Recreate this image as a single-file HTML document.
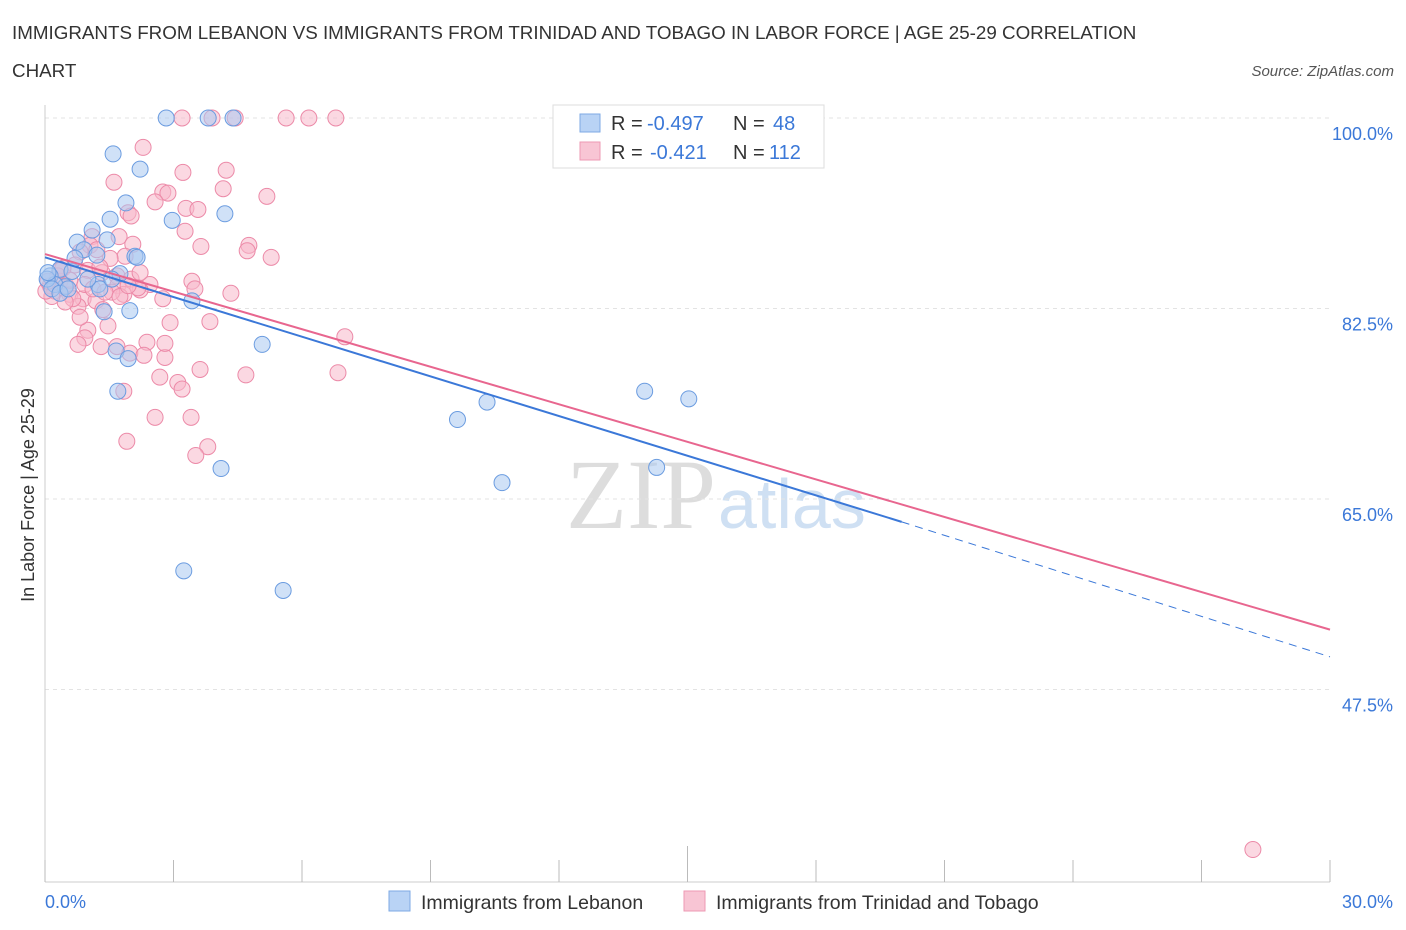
<!DOCTYPE html>
<html><head><meta charset="utf-8"><style>
body{margin:0;background:#fff;font-family:"Liberation Sans",sans-serif;}
svg{display:block}
</style></head><body>
<svg id="chart" width="1406" height="930">
<text x="12" y="39" font-size="18.8" fill="#333">IMMIGRANTS FROM LEBANON VS IMMIGRANTS FROM TRINIDAD AND TOBAGO IN LABOR FORCE | AGE 25-29 CORRELATION</text>
<text x="12" y="77" font-size="18.8" fill="#333">CHART</text>
<text x="1394" y="76" font-size="15" fill="#555" font-style="italic" text-anchor="end">Source: ZipAtlas.com</text>
<text x="716" y="528" font-size="100" fill="#ddd" text-anchor="end" font-family="Liberation Serif,serif">ZIP</text>
<text x="718" y="528" font-size="70" fill="#cfe0f3">atlas</text>
<text transform="translate(34,495) rotate(-90)" font-size="18" fill="#333" text-anchor="middle">In Labor Force | Age 25-29</text>
<g id="grid"></g><g id="lines"></g><g id="pts"></g>
<g>
<rect x="553" y="105" width="271" height="63" fill="#fff" stroke="#ddd"/>
<rect x="580" y="114" width="20" height="18" fill="#b9d3f5" stroke="#7ea9e4"/>
<text x="611" y="130" font-size="20" fill="#333">R =</text>
<text x="647" y="130" font-size="20" fill="#3b78d8">-0.497</text>
<text x="733" y="130" font-size="20" fill="#333">N =</text>
<text x="773" y="130" font-size="20" fill="#3b78d8">48</text>
<rect x="580" y="142" width="20" height="18" fill="#f8c5d4" stroke="#ee99b3"/>
<text x="611" y="159" font-size="20" fill="#333">R =</text>
<text x="650" y="159" font-size="20" fill="#3b78d8">-0.421</text>
<text x="733" y="159" font-size="20" fill="#333">N =</text>
<text x="769" y="159" font-size="20" fill="#3b78d8">112</text>
</g>
<g>
<rect x="389" y="891" width="21" height="20" fill="#b9d3f5" stroke="#7ea9e4"/>
<text x="421" y="909" font-size="19.5" fill="#333">Immigrants from Lebanon</text>
<rect x="684" y="891" width="21" height="20" fill="#f8c5d4" stroke="#ee99b3"/>
<text x="716" y="909" font-size="19.5" fill="#333">Immigrants from Trinidad and Tobago</text>
</g>
</svg>
<script>
const yTicks=[100,82.5,65,47.5];
const yTickLabels=["100.0%","82.5%","65.0%","47.5%"];
const xTickLabels=["0.0%","30.0%"];
const blueX=[2.83,3.81,4.39,1.59,2.22,1.89,1.52,2.97,4.2,0.75,1.1,1.45,0.91,1.21,2.1,2.15,0.35,0.12,0.63,1.75,1.24,0.47,0.23,1.28,1.38,1.98,3.43,5.07,1.66,1.94,1.7,14.0,15.03,10.32,9.63,14.28,4.11,10.67,3.24,5.56,0.05,0.16,1.0,0.35,0.7,0.07,1.56,0.54];
const blueY=[100,100,100,96.7,95.3,92.2,90.7,90.6,91.2,88.6,89.7,88.8,87.9,87.4,87.3,87.2,86.1,85.5,85.9,85.7,84.7,84.5,84.7,84.3,82.2,82.3,83.2,79.2,78.6,77.9,74.9,74.9,74.2,73.9,72.3,67.9,67.8,66.5,58.4,56.6,85.2,84.3,85.2,83.9,87.1,85.8,85.2,84.3];
const pinkX=[3.2,3.9,4.44,5.63,6.16,6.79,2.29,4.23,3.22,1.61,2.75,2.87,4.16,5.18,2.57,3.29,3.57,1.94,2.01,3.27,1.1,1.73,3.64,4.76,2.05,4.72,5.28,1.05,1.21,0.82,1.87,1.52,0.7,0.42,1.0,1.33,1.68,2.01,3.43,2.45,3.5,4.34,1.7,1.84,2.22,0.35,0.23,0.58,0.89,1.19,0.77,1.35,2.75,3.85,2.92,1.47,1.0,0.93,7.0,2.38,1.68,0.77,1.31,1.98,2.31,2.8,2.8,3.62,6.84,4.69,2.68,3.1,3.2,1.84,2.57,3.41,1.91,3.8,3.52,28.2,0.12,0.3,0.49,0.65,0.93,1.12,1.56,2.22,1.4,0.47,0.16,1.75,1.28,2.17,0.82,1.94,0.02,0.07,0.58,0.35];
const pinkY=[100,100,100,100,100,100,97.3,95.2,95,94.1,93.2,93.1,93.5,92.8,92.3,91.7,91.6,91.3,91.0,89.6,89.1,89.1,88.2,88.3,88.4,87.8,87.2,88.3,87.9,87.7,87.3,87.1,86.5,86.2,86.0,85.8,85.5,85.2,85.0,84.7,84.3,83.9,84.6,83.8,84.2,85.0,84.1,83.8,83.4,83.2,82.7,82.4,83.4,81.3,81.2,80.9,80.5,79.8,79.9,79.4,79.0,79.2,79.0,78.4,78.2,78.0,79.3,76.9,76.6,76.4,76.2,75.7,75.1,74.9,72.5,72.5,70.3,69.8,69.0,32.8,84.6,85.5,84.6,83.4,84.7,84.3,84.0,85.8,84.0,83.1,83.6,83.6,86.3,84.4,81.7,84.6,84.1,85.0,85.1,86.0];
const blueLine=[[0,87.2],[20,62.9],[30,50.5]];
const pinkLine=[[0,87.5],[30,53.0]];
const X=v=>45+v/30*1285, Y=v=>118+(100-v)*190.5/17.5;
const NS="http://www.w3.org/2000/svg";
function mk(p,t,a){const e=document.createElementNS(NS,t);for(const k in a)e.setAttribute(k,a[k]);document.getElementById(p).appendChild(e);return e;}
yTicks.forEach((v,i)=>{
 const g=mk('grid','line',{x1:45,x2:1330,y1:Y(v),y2:Y(v),stroke:'#e3e3e3','stroke-dasharray':'4,4'});
 
 
 const t=mk('grid','text',{x:1393,y:Y(v)+22,'font-size':18,fill:'#3b78d8','text-anchor':'end'});t.textContent=yTickLabels[i];
 
 
});
const ax=mk('grid','line',{x1:45,x2:1330,y1:882,y2:882,stroke:'#ccc'});


const ay=mk('grid','line',{x1:45,x2:45,y1:105,y2:882,stroke:'#ccc'});


for(let i=0;i<=10;i++){const t=mk('grid','line',{x1:X(i*3),x2:X(i*3),y1:i==5?846:860,y2:882,stroke:'#bbb'});
 
 }
[[0,45,'start'],[30,1393,'end']].forEach((d,i)=>{const t=mk('grid','text',{x:d[1],y:908,'font-size':18,fill:'#3b78d8','text-anchor':d[2]});t.textContent=xTickLabels[i];
 
 });
function pts(xs,ys,f,s,n){xs.forEach((x,i)=>{const c=mk('pts','circle',{cx:X(x),cy:Y(ys[i]),r:8,fill:f,'fill-opacity':0.55,stroke:s,'stroke-width':1});
 
 });}
pts(pinkX,pinkY,'#f7b8cb','#ec8aa8','point-trinidad');
pts(blueX,blueY,'#a9c8f0','#6b9ce0','point-lebanon');
let l=mk('lines','line',{x1:X(blueLine[0][0]),y1:Y(blueLine[0][1]),x2:X(blueLine[1][0]),y2:Y(blueLine[1][1]),stroke:'#3b78d8','stroke-width':2});


l=mk('lines','line',{x1:X(blueLine[1][0]),y1:Y(blueLine[1][1]),x2:X(blueLine[2][0]),y2:Y(blueLine[2][1]),stroke:'#3b78d8','stroke-width':1,'stroke-dasharray':'8,6'});


l=mk('lines','line',{x1:X(pinkLine[0][0]),y1:Y(pinkLine[0][1]),x2:X(pinkLine[1][0]),y2:Y(pinkLine[1][1]),stroke:'#e8668f','stroke-width':2});


document.getElementById('chart').appendChild(document.getElementById('lines'));
</script>
</body></html>
